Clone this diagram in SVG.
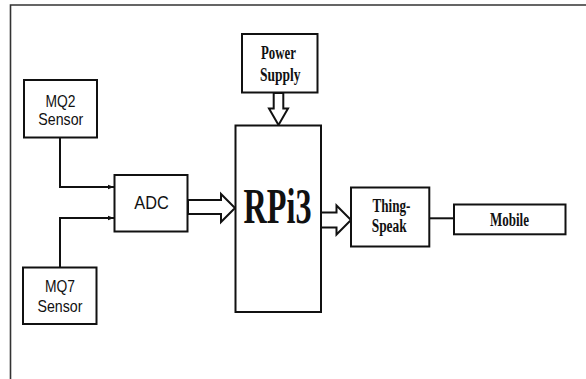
<svg xmlns="http://www.w3.org/2000/svg" width="586" height="379" viewBox="0 0 586 379">
<style>
.box{fill:#fff;stroke:#111;stroke-width:2}
.sans{font-family:"Liberation Sans",Arial,sans-serif;font-size:16.5px;fill:#111;text-anchor:middle}
.serif{font-family:"Liberation Serif","Times New Roman",serif;font-weight:bold;font-size:19.5px;fill:#111;text-anchor:middle}
.big{font-family:"Liberation Serif","Times New Roman",serif;font-weight:bold;font-size:51px;fill:#111}
.line{fill:none;stroke:#111;stroke-width:2}
.hollow{fill:#fff;stroke:#111;stroke-width:2;stroke-linejoin:miter}
.frame{stroke:#333;stroke-width:1.6;fill:none}
</style>
<defs>
<marker id="ah" viewBox="0 0 6 6" refX="6" refY="3" markerWidth="6" markerHeight="6" markerUnits="userSpaceOnUse" orient="auto">
<path d="M0,0.8 L6,3 L0,5.2 Z" fill="#111"/>
</marker>
</defs>
<rect width="586" height="379" fill="#fff"/>
<path class="frame" d="M10.5,379 L10.5,5 L586,5"/>

<g id="connectors">
<polyline class="line" points="60,138 60,187 114,187" marker-end="url(#ah)"/>
<polyline class="line" points="60,267 60,218 114,218" marker-end="url(#ah)"/>
<polygon class="hollow" points="188,200 221,200 221,194 235,208 221,222 221,214 188,214"/>
<polygon class="hollow" points="321,212.5 336.5,212.5 336.5,205.5 351,220 336.5,234.5 336.5,227.5 321,227.5"/>
<polygon class="hollow" points="273.7,93 283.3,93 283.3,108.5 288,108.5 278.5,125 269,108.5 273.7,108.5"/>
<line class="line" x1="429" y1="218.3" x2="454" y2="218.3"/>
</g>

<g id="mq2">
<rect class="box" x="24" y="80" width="73" height="57.5"/>
<text class="sans" x="60.5" y="106.5" textLength="30" lengthAdjust="spacingAndGlyphs">MQ2</text>
<text class="sans" x="60.8" y="125" textLength="45" lengthAdjust="spacingAndGlyphs">Sensor</text>
</g>

<g id="mq7">
<rect class="box" x="23" y="267.5" width="73.5" height="56.5"/>
<text class="sans" x="60" y="292.3" textLength="30" lengthAdjust="spacingAndGlyphs">MQ7</text>
<text class="sans" x="60" y="311.5" textLength="45" lengthAdjust="spacingAndGlyphs">Sensor</text>
</g>

<g id="adc">
<rect class="box" x="114.5" y="175" width="73" height="56.5"/>
<text class="sans" x="151.5" y="208.5" style="font-size:18.5px" textLength="34.5" lengthAdjust="spacingAndGlyphs">ADC</text>
</g>

<g id="power">
<rect class="box" x="242" y="34" width="75.5" height="58.5"/>
<text class="serif" x="278.5" y="59.3" textLength="35" lengthAdjust="spacingAndGlyphs">Power</text>
<text class="serif" x="280.3" y="81" textLength="40.5" lengthAdjust="spacingAndGlyphs">Supply</text>
</g>

<g id="rpi3">
<rect class="box" x="235.5" y="125.5" width="85.5" height="186.5"/>
<text class="big" x="243.5" y="222.7" textLength="68" lengthAdjust="spacingAndGlyphs">RPi3</text>
</g>

<g id="thingspeak">
<rect class="box" x="351" y="187.5" width="78.3" height="59"/>
<text class="serif" x="391.5" y="211.5" style="font-size:18px" textLength="38" lengthAdjust="spacingAndGlyphs">Thing-</text>
<text class="serif" x="389.2" y="231.5" style="font-size:18px" textLength="35" lengthAdjust="spacingAndGlyphs">Speak</text>
</g>

<g id="mobile">
<rect class="box" x="454" y="204.5" width="111.5" height="29.8"/>
<text class="serif" x="509.5" y="225.7" textLength="39" lengthAdjust="spacingAndGlyphs">Mobile</text>
</g>
</svg>
